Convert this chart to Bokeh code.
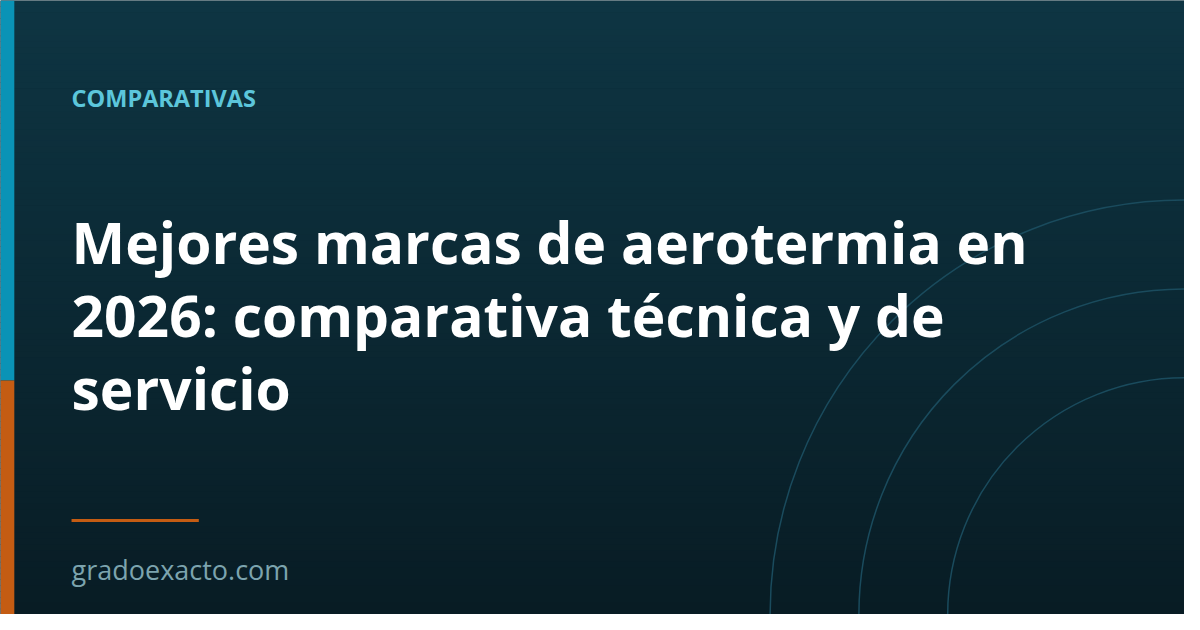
import numpy as np
from bokeh.plotting import figure
from bokeh.models import Range1d
from bokeh.core.properties import value
from bokeh.embed import file_html
from bokeh.resources import INLINE

# ---- content ----
kicker = ["COMPARATIVAS"]
title_lines = ["Mejores marcas de aerotermia en",
               "2026: comparativa técnica y de",
               "servicio"]
site = ["gradoexacto.com"]
ring_radii = [240, 330, 420]

# ---- canvas: reference coordinates 1200x630, fitted into the window ----
W, H = 1200, 630
PW, PH = 1184, 614
s = (PW / W + PH / H) / 2


def px(v):
    return "%.1fpx" % (v * s)


p = figure(width=PW, height=PH,
           x_range=Range1d(0, W), y_range=Range1d(H, 0),
           output_backend="svg", toolbar_location=None, min_border=0)
p.axis.visible = False
p.grid.visible = False
p.outline_line_color = None
p.background_fill_color = "#0b2833"
p.border_fill_color = "#0b2833"


def hex2rgb(h):
    h = h.lstrip("#")
    return np.array([int(h[i:i + 2], 16) for i in (0, 2, 4)], dtype=float)


# background vertical gradient
top_c, bot_c = hex2rgb("#0e3543"), hex2rgb("#081c24")
n = 105
edges = np.linspace(0, H, n + 1)
t = (edges[:-1] + edges[1:]) / 2 / H
cols = ["#%02x%02x%02x" % tuple(int(round(v)) for v in (top_c + (bot_c - top_c) * tt)) for tt in t]
p.quad(left=0, right=W, top=edges[:-1], bottom=edges[1:] + 0.6, fill_color=cols, line_color=None)

# rings
p.circle(x=[W] * len(ring_radii), y=[H] * len(ring_radii), radius=ring_radii,
         fill_color=None, line_color="#1a4b5d", line_width=1.5)

# left accent bar
p.quad(left=[0, 0], right=[14, 14], top=[0, 390], bottom=[390, H],
       fill_color=["#0a93b6", "#c45c13"], line_color=None)

# kicker
p.text(x=[72], y=[100], text=kicker, text_font=value("Open Sans"),
       text_font_style="bold", text_font_size=px(24), text_color="#5cc6db",
       text_baseline="alphabetic", text_align="left")

# title
p.text(x=[72] * 3, y=[248, 323, 398], text=title_lines, text_font=value("Open Sans"),
       text_font_style="bold", text_font_size=px(58), text_color="#ffffff",
       text_baseline="alphabetic", text_align="left")

# rule
p.segment(x0=[72], y0=[533.5], x1=[201], y1=[533.5], line_color="#c45c13", line_width=3)

# site
p.text(x=[72], y=[584], text=site, text_font=value("Open Sans"),
       text_font_size=px(27.5), text_color="#7ca4ae",
       text_baseline="alphabetic", text_align="left")

open("out.html", "w").write(file_html(p, INLINE))
